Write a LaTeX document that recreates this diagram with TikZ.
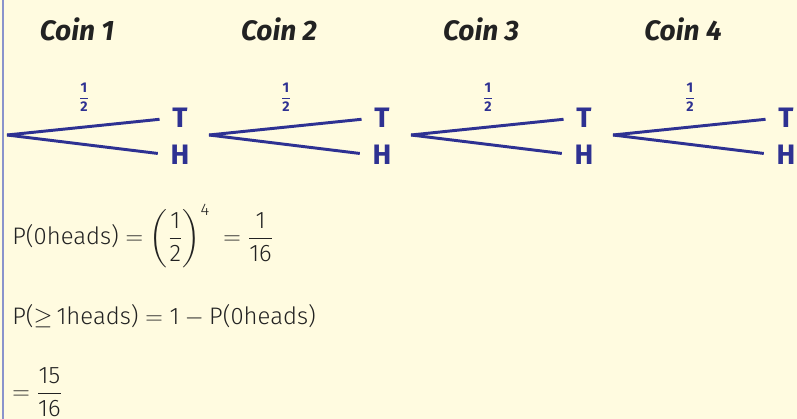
\documentclass[tikz,border=0pt]{standalone}
\usepackage{amsmath}
\usepackage{fontspec}
\setmainfont{Fira Sans}
\newfontfamily\eqfont{Fira Sans Light}
\usetikzlibrary{positioning}
\definecolor{paper}{HTML}{FFFBE0}
\definecolor{treeblue}{HTML}{2E3192}
\definecolor{edgeblue}{HTML}{8A93CC}
\definecolor{inkgray}{HTML}{222222}

\begin{document}
\begin{tikzpicture}[x=0.025cm,y=-0.025cm,
  branch/.style={treeblue,line width=2.1pt,shorten >=9pt},
  outcome/.style={treeblue,inner sep=0pt,font=\fontsize{20}{22}\selectfont\bfseries},
  coinlabel/.style={inkgray,inner sep=0pt,font=\fontsize{20}{22}\selectfont\bfseries\itshape},
  prob/.style={treeblue,inner sep=0pt,font=\fontsize{10}{11}\selectfont\bfseries},
  eqn/.style={inkgray,anchor=west,inner sep=0pt,font=\eqfont\fontsize{17}{20}\selectfont}]
  % page and left rule
  \fill[paper] (0,0) rectangle (797,419);
  \useasboundingbox (0,0) rectangle (797,419);
  \draw[edgeblue,line width=0.8pt] (3,0) -- (3,419);
  % one tree per coin
  \foreach \i in {1,...,4}{
    \begin{scope}[shift={(202*\i-202,0)}]
      \node[coinlabel] (coin\i) at (77,29) {Coin \i};
      \coordinate (root\i) at (7,135);
      \node[outcome] (tail\i) at (180,118) {T};
      \node[outcome] (head\i) at (180,155) {H};
      \node[prob] (half\i) at (84,97) {$\dfrac{\text{1}}{\text{2}}$};
      \draw[branch] (root\i) -- (tail\i.west);
      \draw[branch] (root\i) -- (head\i.west);
    \end{scope}
  }
  % probabilities
  \node[eqn] (eqzero) at (12,236)
    {$\text{P(0heads)}=\left(\dfrac{\text{1}}{\text{2}}\right)^{\text{4}}\;=\dfrac{\text{1}}{\text{16}}$};
  \node[eqn] (eqatleast) at (12,316)
    {$\text{P(}{\geq}\,\text{1heads)}=\text{1}-\text{P(0heads)}$};
  \node[eqn] (eqresult) at (12,392)
    {$=\dfrac{\text{15}}{\text{16}}$};
\end{tikzpicture}
\end{document}
